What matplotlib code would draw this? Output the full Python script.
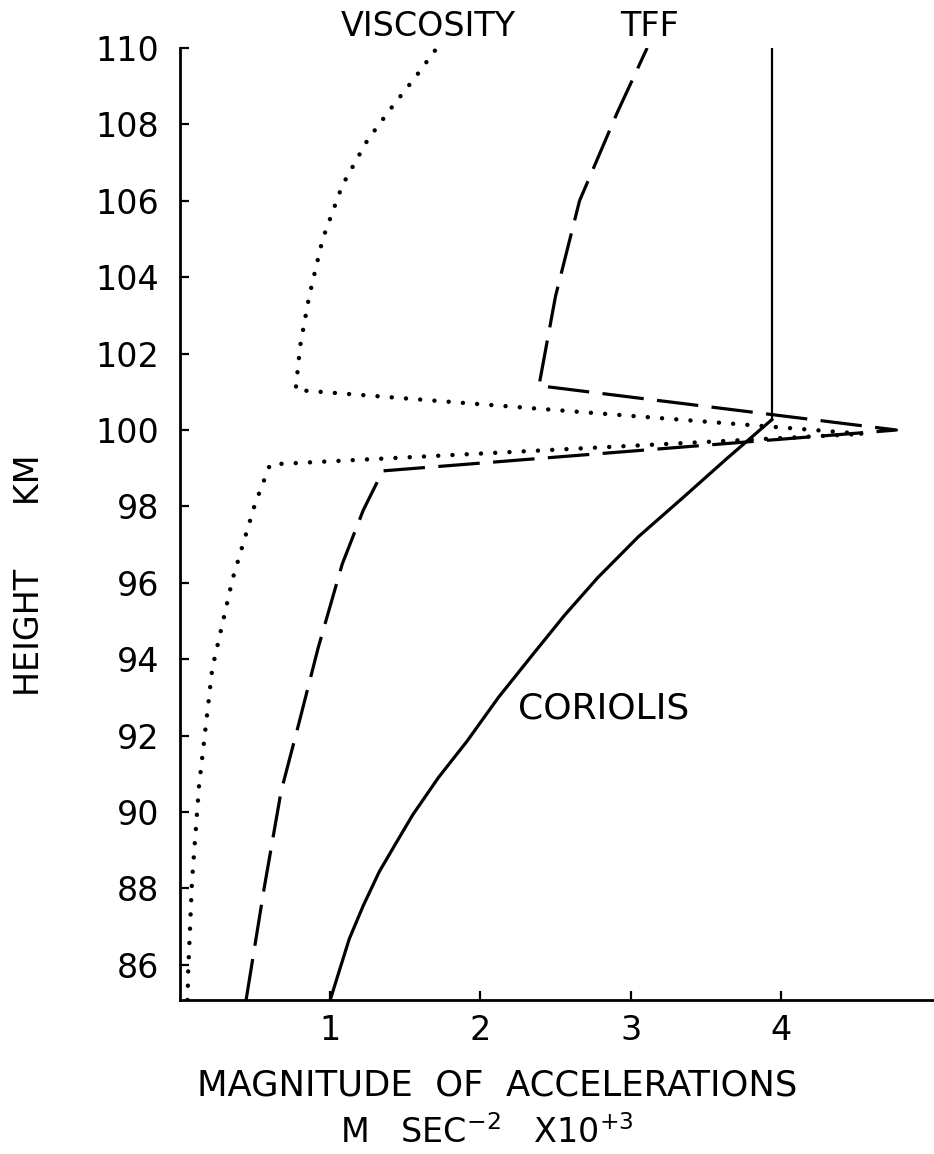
import numpy as np
import matplotlib.pyplot as plt

plt.rcParams['font.family'] = 'DejaVu Sans'
plt.rcParams['mathtext.fontset'] = 'dejavusans'

# height profiles (km) of the acceleration terms, x in m s^-2 * 1e3
coriolis_x = [1.00, 1.065, 1.127, 1.22, 1.327, 1.44, 1.55, 1.72, 1.91, 2.12, 2.35,
              2.56, 2.78, 3.05, 3.34, 3.64, 3.94, 3.94]
coriolis_y = [85.08, 85.9, 86.68, 87.55, 88.44, 89.2, 89.93, 90.9, 91.85, 93.0, 94.13,
              95.15, 96.13, 97.2, 98.2, 99.25, 100.27, 110.0]

tff_x = [0.44, 0.56, 0.673, 0.79, 0.92, 1.08, 1.22, 1.35, 4.77, 2.39, 2.50, 2.66, 2.91, 3.11]
tff_y = [85.08, 88.0, 90.54, 92.3, 94.3, 96.49, 97.9, 98.93, 100.0, 101.16, 103.5, 106.0, 108.3, 110.0]

visc_x = [0.05, 0.055, 0.08, 0.127, 0.215, 0.35, 0.50, 0.60, 4.55,
          0.77, 0.80, 0.86, 0.95, 1.08, 1.25, 1.42, 1.56, 1.71]
visc_y = [85.08, 85.87, 88.2, 90.7, 93.76, 96.1, 98.07, 99.1, 99.9,
          101.05, 102.2, 103.5, 105.0, 106.4, 107.6, 108.5, 109.2, 110.0]

yticks = list(range(86, 111, 2))
xticks = [1, 2, 3, 4]

W, H = 934, 1154
fig = plt.figure(figsize=(W / 100, H / 100), dpi=100)
ax = fig.add_axes([180 / W, 1 - 1000 / H, 1 - 180 / W, (1000 - 48) / H])

# curved part heavier, the vertical stem above 100 km drawn thinner
ax.plot(coriolis_x[:-1], coriolis_y[:-1], color='black', lw=2.3)
ax.plot(coriolis_x[-2:], coriolis_y[-2:], color='black', lw=1.6)
ax.plot(tff_x, tff_y, color='black', lw=2.3, linestyle=(0, (13, 4.2)),
        dash_capstyle='butt')
ax.plot(visc_x, visc_y, color='black', lw=3.2, linestyle=(0, (0.01, 3.2)),
        dash_capstyle='round')

ax.set_xlim(0, 5.02)
ax.set_ylim(85.08, 110)
ax.set_xticks(xticks)
ax.set_yticks(yticks)
ax.tick_params(direction='in', length=6.5, width=1.6, labelsize=24)
ax.tick_params(axis='y', pad=15)
ax.tick_params(axis='x', pad=10)
for s in ['top', 'right']:
    ax.spines[s].set_visible(False)
for s in ['left', 'bottom']:
    ax.spines[s].set_linewidth(2.0)

ax.text(2.25, 92.7, 'CORIOLIS', fontsize=26, ha='left', va='center')
fig.text(428 / W, 1 - 27 / H, 'VISCOSITY', fontsize=24, ha='center', va='center')
fig.text(650 / W, 1 - 27 / H, 'TFF', fontsize=24, ha='center', va='center')

fig.text(30 / W, 1 - 575 / H, 'HEIGHT      KM', fontsize=24, rotation=90,
         ha='center', va='center')
fig.text(497 / W, 1 - 1085 / H, 'MAGNITUDE  OF  ACCELERATIONS', fontsize=25.5,
         ha='center', va='center')
fig.text(487 / W, 1 - 1133 / H, r'M   SEC$^{-2}$   X10$^{+3}$', fontsize=24,
         ha='center', va='center')

fig.savefig('out.png', dpi=100, facecolor='white')
